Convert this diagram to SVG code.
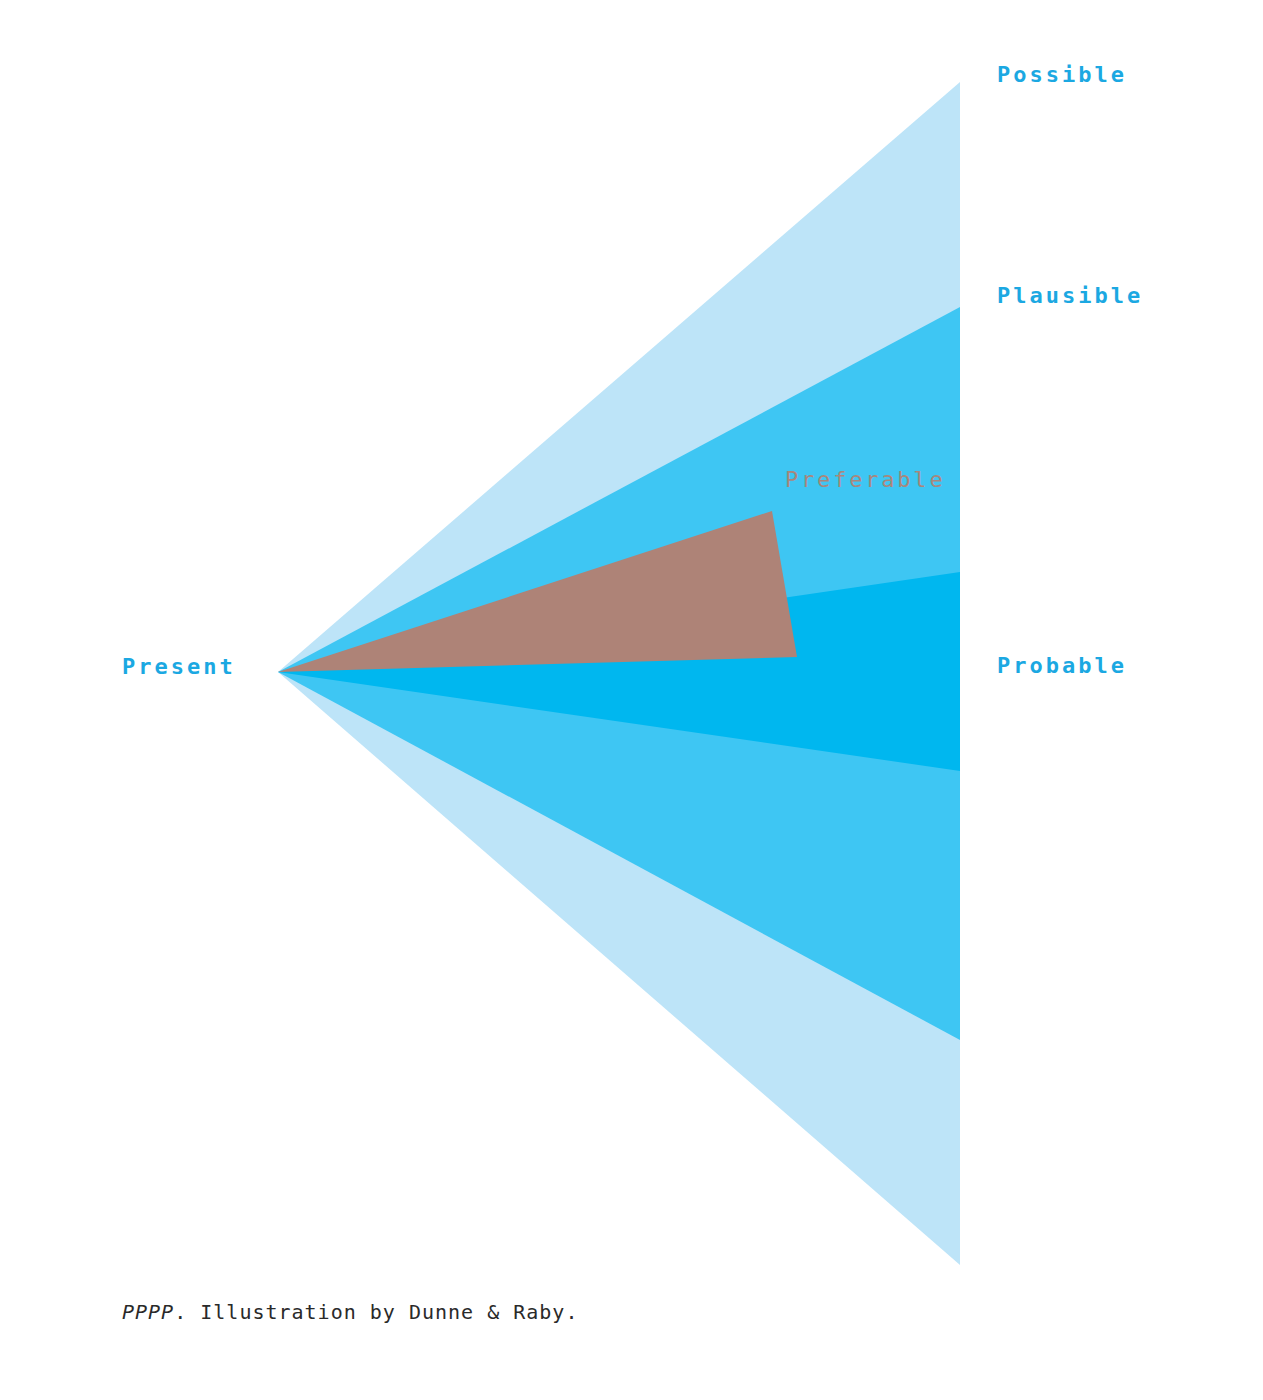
<svg xmlns="http://www.w3.org/2000/svg" width="1263" height="1400" viewBox="0 0 1263 1400">
<style>
.lbl{font-family:"DejaVu Sans Mono","Liberation Mono",monospace;font-size:22px;font-weight:bold;letter-spacing:3px;fill:#1ba8e2}
.pref{font-family:"DejaVu Sans Mono","Liberation Mono",monospace;font-size:22px;letter-spacing:2.8px;fill:#a9877c}
.cap{font-family:"DejaVu Sans Mono","Liberation Mono",monospace;font-size:20px;letter-spacing:1px;fill:#2a2a2a}
</style>
<rect width="1263" height="1400" fill="#ffffff"/>
<g id="possible">
<polygon points="278,672 960,82 960,1265" fill="#bde4f8"/>
<text class="lbl" x="997" y="82">Possible</text>
</g>
<g id="plausible">
<polygon points="278,672 960,307 960,1040" fill="#3ec6f3"/>
<text class="lbl" x="997" y="303">Plausible</text>
</g>
<g id="probable">
<polygon points="278,672 960,572 960,771" fill="#00b7ef"/>
<text class="lbl" x="997" y="673">Probable</text>
</g>
<g id="preferable">
<polygon points="278,672 772,511 797,657" fill="#ae8377"/>
<text class="pref" x="785" y="487">Preferable</text>
</g>
<g id="present">
<text class="lbl" x="122" y="674">Present</text>
</g>
<g id="connectors"></g>
<text class="cap" x="122" y="1319"><tspan font-style="italic">PPPP</tspan>. Illustration by Dunne &amp; Raby.</text>
</svg>
